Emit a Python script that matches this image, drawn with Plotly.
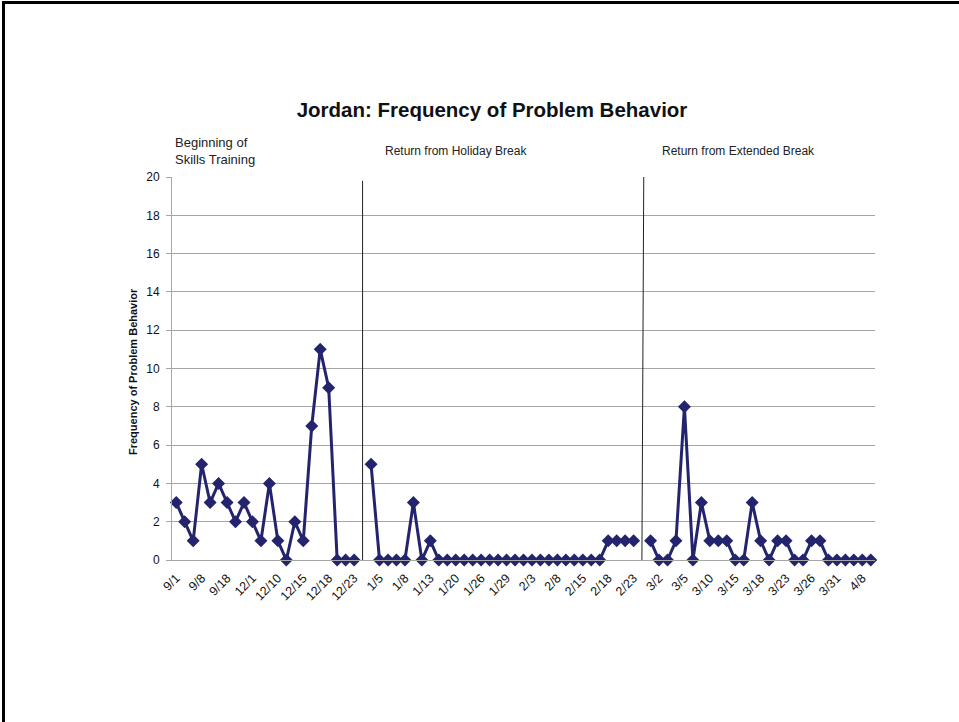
import plotly.graph_objects as go

# Data
phase1 = [3, 2, 1, 5, 3, 4, 3, 2, 3, 2, 1, 4, 1, 0, 2, 1, 7, 11, 9, 0, 0, 0]
phase2 = [5, 0, 0, 0, 0, 3, 0, 1, 0, 0, 0, 0, 0, 0, 0, 0, 0, 0, 0, 0, 0, 0, 0, 0, 0, 0, 0, 0, 1, 1, 1, 1]
phase3 = [1, 0, 0, 1, 8, 0, 3, 1, 1, 1, 0, 0, 3, 1, 0, 1, 1, 0, 0, 1, 1, 0, 0, 0, 0, 0, 0]
tick_labels = ["9/1", "9/8", "9/18", "12/1", "12/10", "12/15", "12/18", "12/23",
               "1/5", "1/8", "1/13", "1/20", "1/26", "1/29", "2/3", "2/8", "2/15", "2/18", "2/23",
               "3/2", "3/5", "3/10", "3/15", "3/18", "3/23", "3/26", "3/31", "4/8"]
phase_labels = ["Beginning of<br>Skills Training", "Return from Holiday Break", "Return from Extended Break"]

y = phase1 + [None] + phase2 + [None] + phase3
x = list(range(len(y)))
break1 = len(phase1)
break2 = len(phase1) + 1 + len(phase2)
tickvals = list(range(0, len(y), 3))[:len(tick_labels)]

W, H = 959, 722
L, R, T, B = 172, 84, 177, 162
pw = W - L - R
ph = H - T - B

def px(xp):
    return (xp - L) / pw

def py(yp):
    return (H - B - yp) / ph

navy = "#24246E"
font = "Liberation Sans, Arial, sans-serif"

fig = go.Figure()
fig.add_trace(go.Scatter(
    x=x, y=y, mode="lines+markers",
    line=dict(color=navy, width=3),
    marker=dict(symbol="diamond", size=10, color=navy),
    connectgaps=False, cliponaxis=False, showlegend=False,
))

shapes = [
    dict(type="line", xref="x", yref="y", x0=break1, x1=break1, y0=0, y1=19.8,
         line=dict(color="#222222", width=1)),
    dict(type="line", xref="x", yref="y", x0=break2 - 0.02, x1=break2 + 0.2, y0=0, y1=20.2,
         line=dict(color="#222222", width=1)),
    # slide frame
    dict(type="line", xref="paper", yref="paper", x0=px(2), x1=px(959), y0=py(2.5), y1=py(2.5),
         line=dict(color="black", width=3)),
    dict(type="line", xref="paper", yref="paper", x0=px(3.5), x1=px(3.5), y0=py(1), y1=py(722),
         line=dict(color="black", width=3)),
]

annotations = [
    dict(text=phase_labels[0], xref="paper", yref="paper", x=px(173), y=py(151), xanchor="left",
         yanchor="middle", align="left", showarrow=False,
         font=dict(family=font, size=13, color="#222222")),
    dict(text=phase_labels[1], xref="paper", yref="paper", x=px(456), y=py(151), xanchor="center",
         yanchor="middle", showarrow=False, font=dict(family=font, size=12, color="#222222")),
    dict(text=phase_labels[2], xref="paper", yref="paper", x=px(738), y=py(151), xanchor="center",
         yanchor="middle", showarrow=False, font=dict(family=font, size=12, color="#222222")),
    dict(text="<b>Frequency of Problem Behavior</b>", xref="paper", yref="paper", x=px(133), y=py(372),
         xanchor="center", yanchor="middle", textangle=-90, showarrow=False,
         font=dict(family=font, size=11, color="#111111")),
]

fig.update_layout(
    width=W, height=H,
    margin=dict(l=L, r=R, t=T, b=B, pad=0),
    paper_bgcolor="white", plot_bgcolor="white",
    title=dict(text="<b>Jordan: Frequency of Problem Behavior</b>", x=px(492), xref="paper",
               y=1 - 110 / H, yref="container", xanchor="center", yanchor="middle",
               font=dict(family=font, size=20.5, color="#111111")),
    shapes=shapes, annotations=annotations,
    xaxis=dict(range=[-0.5, len(y) - 0.5], tickmode="array", tickvals=tickvals, ticktext=tick_labels,
               tickangle=-45, showgrid=False, zeroline=False, showline=True, linecolor="#A6A6A6",
               linewidth=1, ticks="", ticklabelstandoff=5,
               tickfont=dict(family=font, size=12.5, color="#111111")),
    yaxis=dict(range=[0, 20], dtick=2, showgrid=True, gridcolor="#A6A6A6", gridwidth=1,
               zeroline=False, showline=True, linecolor="#A6A6A6", linewidth=1,
               ticks="outside", ticklen=5, tickcolor="#A6A6A6", ticklabelstandoff=4,
               tickfont=dict(family=font, size=12, color="#111111")),
)

fig.write_html("out.html", config={"displayModeBar": False},
               post_script="document.body.style.margin='0';document.body.style.overflow='hidden';")
